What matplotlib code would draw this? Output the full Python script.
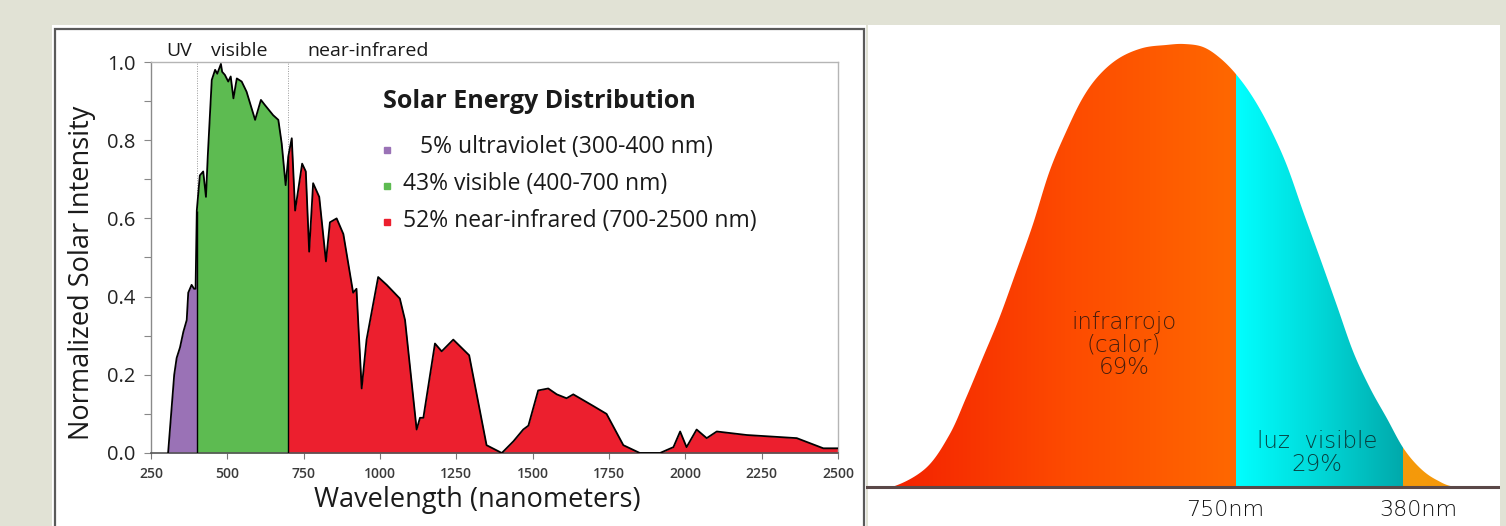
import numpy as np
import matplotlib
matplotlib.use("Agg")
import matplotlib.pyplot as plt
from matplotlib.patches import Rectangle, Polygon
from matplotlib.colors import LinearSegmentedColormap
from matplotlib.ticker import MultipleLocator, FormatStrFormatter
import matplotlib.transforms as mtransforms

# ---------------- left chart data ----------------
wavelength_nm = [306, 318, 326, 334, 345, 356, 367, 372, 383, 391, 396, 400,
                 410, 421, 430, 436, 449, 460, 467, 479, 483, 492, 503, 511, 520,
                 531, 547, 563, 591, 610, 623, 650, 667, 678, 691, 700, 711, 722,
                 745, 757, 768, 781, 801, 823, 836, 858, 880, 912, 923, 940, 956,
                 994, 1022, 1065, 1082, 1120, 1131, 1142, 1180, 1202, 1240, 1292,
                 1349, 1399, 1437, 1469, 1486, 1518, 1551, 1579, 1611, 1633, 1699,
                 1742, 1797, 1851, 1917, 1961, 1983, 2004, 2037, 2070, 2103, 2201,
                 2365, 2452, 2500]
intensity = [0.0, 0.12, 0.20, 0.243, 0.27, 0.31, 0.34, 0.41, 0.43, 0.42, 0.42, 0.62,
             0.71, 0.72, 0.655, 0.76, 0.954, 0.98, 0.97, 0.995, 0.975, 0.967, 0.95, 0.963, 0.907,
             0.958, 0.95, 0.924, 0.852, 0.903, 0.89, 0.864, 0.852, 0.792, 0.685, 0.76, 0.805, 0.62,
             0.74, 0.72, 0.515, 0.69, 0.655, 0.49, 0.59, 0.60, 0.56, 0.41, 0.42, 0.165, 0.29,
             0.45, 0.43, 0.395, 0.34, 0.06, 0.09, 0.09, 0.28, 0.26, 0.29, 0.25,
             0.02, 0.0, 0.03, 0.06, 0.07, 0.16, 0.165, 0.15, 0.14, 0.15, 0.12,
             0.10, 0.02, 0.0, 0.0, 0.015, 0.055, 0.015, 0.06, 0.038, 0.055, 0.046,
             0.038, 0.012, 0.012]
band_edges = [300, 400, 700, 2500]
band_colors = ["#9a72b6", "#5dbb51", "#ec1f2e"]
band_names = ["UV", "visible", "near-infrared"]
legend_pct = ["5%", "43%", "52%"]
legend_desc = ["ultraviolet (300-400 nm)", "visible (400-700 nm)", "near-infrared (700-2500 nm)"]
legend_title = "Solar Energy Distribution"
x_ticks = [250, 500, 750, 1000, 1250, 1500, 1750, 2000, 2250, 2500]
y_ticks = [0.0, 0.2, 0.4, 0.6, 0.8, 1.0]

# ---------------- right chart data ----------------
bell_pos = [0, 26.7, 60, 83.3, 100, 116.7, 133.3, 150, 166.7, 183.3, 200, 216.7,
            233.3, 253.3, 276.7, 300, 318, 337, 354, 370.7, 387.3, 404, 420.7,
            437.3, 454, 470.7, 487.3, 504, 520.7, 537.3, 554, 570.7, 590.7, 634]
bell_height = [0, 0.3, 19, 52, 89, 129, 169, 215, 262, 315, 355, 389,
               412, 429, 439, 442, 443, 440, 429, 412, 389, 359, 322,
               275, 229, 182, 135, 99, 69, 39, 19, 7, 0, 0]
region_bounds = [0, 370, 537, 634]
region_labels = ["infrarrojo\n(calor)\n69%", "luz  visible\n29%"]
axis_labels = ["750nm", "380nm"]

W, H = 1506, 526
fig = plt.figure(figsize=(W / 100, H / 100), dpi=100)
fig.patch.set_facecolor("#e1e2d5")


def fx(px):
    return px / W


def fy(py):
    return 1 - py / H


# panel backgrounds
fig.add_artist(Rectangle((fx(52), 0), fx(866) - fx(52), fy(25), transform=fig.transFigure,
                         facecolor="white", edgecolor="none", zorder=-5))
fig.add_artist(Rectangle((fx(55), fy(540)), fx(864) - fx(55), fy(29) - fy(540),
                         transform=fig.transFigure, facecolor="none",
                         edgecolor="#5a5a5a", lw=1.6, zorder=-4))
fig.add_artist(Rectangle((fx(868), 0), fx(1500) - fx(868), fy(25), transform=fig.transFigure,
                         facecolor="white", edgecolor="none", zorder=-5))

FONT = "Open Sans"

# ---------------- left chart ----------------
ax = fig.add_axes([fx(151), fy(453), fx(838) - fx(151), fy(62) - fy(453)])
ax.set_facecolor("none")
wl = np.array(wavelength_nm, dtype=float)
it = np.array(intensity, dtype=float)

ax.vlines(band_edges[1:3], 0, 1.0, colors="#999999", linestyles=(0, (1, 1.5)), lw=0.7, zorder=1)
for lo, hi, col in zip(band_edges[:-1], band_edges[1:], band_colors):
    m = (wl >= lo) & (wl <= hi)
    ax.fill_between(wl[m], it[m], 0, color=col, lw=0, zorder=2)
ax.vlines(band_edges[1:3], 0, np.interp(band_edges[1:3], wl, it), colors="black", lw=1.0, zorder=3)
ax.plot(wl, it, color="black", lw=1.3, zorder=4)

ax.set_xlim(250, 2500)
ax.set_ylim(0, 1.0)
ax.set_xticks(x_ticks)
ax.set_yticks(y_ticks)
ax.yaxis.set_minor_locator(MultipleLocator(0.1))
ax.yaxis.set_major_formatter(FormatStrFormatter("%.1f"))
for lab in ax.get_xticklabels():
    lab.set_fontfamily(FONT)
    lab.set_fontsize(10)
    lab.set_fontweight("semibold")
    lab.set_color("#3a3a3a")
for lab in ax.get_yticklabels():
    lab.set_fontfamily(FONT)
    lab.set_fontsize(14.5)
    lab.set_color("#222222")
ax.tick_params(axis="x", which="both", length=4, width=0.8, color="#777777", pad=6)
ax.tick_params(axis="y", which="both", length=5, width=0.8, color="#888888", pad=6)
for s in ["top", "right"]:
    ax.spines[s].set_color("#b5b5b5")
    ax.spines[s].set_linewidth(1.0)
ax.spines["left"].set_color("#8a8a8a")
ax.spines["left"].set_linewidth(1.0)
ax.spines["bottom"].set_color("#555555")
ax.spines["bottom"].set_linewidth(1.2)

fig.text(fx(82), fy(273), "Normalized Solar Intensity", rotation=90, ha="center", va="center",
         fontsize=19.5, family=FONT, color="#1a1a1a")
fig.text(fx(477), fy(500), "Wavelength (nanometers)", ha="center", va="center",
         fontsize=19.5, family=FONT, color="#1a1a1a")

trans = mtransforms.blended_transform_factory(ax.transData, ax.transAxes)
for name, xc in zip(band_names, [342, 538, 961]):
    ax.text(xc, 1.027, name, transform=trans, ha="center", va="center", fontsize=14,
            family=FONT, color="#1a1a1a")

ax.text((383 - 151) / 687, (453 - 102) / 391, legend_title, transform=ax.transAxes,
        ha="left", va="center", fontsize=18, fontweight="bold", family=FONT, color="#1a1a1a")
text_y = [147, 184, 221]
mark_y = [150, 186, 222]
text_x = [420, 403, 403]
for pct, desc, col, ty, my, tx in zip(legend_pct, legend_desc, band_colors, text_y, mark_y, text_x):
    ax.plot([(386.7 - 151) / 687], [(453 - my) / 391], marker="s", ms=5, color=col,
            transform=ax.transAxes, clip_on=False, ls="none")
    ax.text((tx - 151) / 687, (453 - ty) / 391, pct + " " + desc, transform=ax.transAxes,
            ha="left", va="center", fontsize=16.5, family=FONT, color="#1a1a1a")

# ---------------- right chart ----------------
axr = fig.add_axes([fx(866), 0, fx(1500) - fx(866), 1])
axr.set_facecolor("none")
axr.axis("off")
bx0 = np.array(bell_pos, dtype=float)
by0 = np.array(bell_height, dtype=float)


def catmull_rom(x, y, n=20):
    # smooth rendering of the read points (passes through every point)
    px = np.r_[x[0], x, x[-1]]
    py = np.r_[y[0], y, y[-1]]
    ox, oy = [], []
    t = np.linspace(0, 1, n, endpoint=False)
    for i in range(1, len(px) - 2):
        p0, p1, p2, p3 = (np.array([px[j], py[j]]) for j in (i - 1, i, i + 1, i + 2))
        t2, t3 = t * t, t * t * t
        pts = 0.5 * ((2 * p1)[None, :] + (-p0 + p2)[None, :] * t[:, None]
                     + (2 * p0 - 5 * p1 + 4 * p2 - p3)[None, :] * t2[:, None]
                     + (-p0 + 3 * p1 - 3 * p2 + p3)[None, :] * t3[:, None])
        ox.extend(pts[:, 0])
        oy.extend(pts[:, 1])
    ox.append(x[-1])
    oy.append(y[-1])
    return np.array(ox), np.clip(np.array(oy), 0, None)


bx, by = catmull_rom(bx0, by0)

grads = [["#f42200", "#fd4a00", "#ff6800"],
         ["#00ffff", "#00d8d8", "#00a9ab"],
         ["#f59a0a", "#f5960a"]]


def grad_fill(lo, hi, colors):
    m = (bx > lo) & (bx < hi)
    xs = np.concatenate([[lo], bx[m], [hi]])
    ys = np.concatenate([[np.interp(lo, bx, by)], by[m], [np.interp(hi, bx, by)]])
    verts = np.column_stack([np.r_[xs, hi, lo], np.r_[ys, 0, 0]])
    poly = Polygon(verts, closed=True, facecolor="none", edgecolor="none")
    axr.add_patch(poly)
    cmap = LinearSegmentedColormap.from_list("g", colors)
    g = np.linspace(0, 1, 256).reshape(1, -1)
    nz = xs[ys > 0.5]
    x0 = nz.min() if len(nz) else lo
    im = axr.imshow(g, extent=[x0, hi, 0, ys.max() + 1], aspect="auto", cmap=cmap,
                    origin="lower", interpolation="bilinear", zorder=2)
    im.set_clip_path(poly)


for (lo, hi), cols in zip(zip(region_bounds[:-1], region_bounds[1:]), grads):
    grad_fill(lo, hi, cols)

axr.axhline(0, color="#5a4848", lw=2.2, zorder=3)
axr.set_xlim(0, 634)
axr.set_ylim(-39, 487)

RF = "DejaVu Sans"
axr.text(258, 142, region_labels[0], ha="center", va="center", fontsize=16.5, family=RF,
         fontweight=200, color="#1a1010", alpha=0.8, linespacing=1.0, zorder=5)
axr.text(451, 34, region_labels[1], ha="center", va="center", fontsize=16.5, family=RF,
         fontweight=200, color="#0a1a1a", alpha=0.8, linespacing=1.0, zorder=5)
axr.text(359, -23, axis_labels[0], ha="center", va="center", fontsize=16, family=RF,
         fontweight=200, color="#111111", zorder=5)
axr.text(552, -23, axis_labels[1], ha="center", va="center", fontsize=16, family=RF,
         fontweight=200, color="#111111", zorder=5)

fig.savefig("out.png", dpi=100, facecolor=fig.get_facecolor())
